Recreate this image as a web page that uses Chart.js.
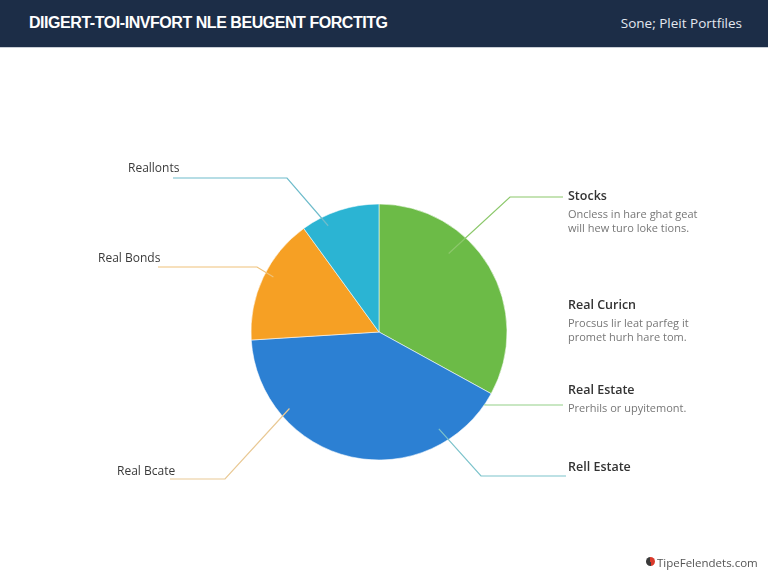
<!DOCTYPE html>
<html>
<head>
<meta charset="utf-8">
<script src="https://cdn.jsdelivr.net/npm/chart.js@4.4.1/dist/chart.umd.min.js"></script>
<style>
  html,body{margin:0;padding:0;background:#ffffff;width:768px;height:576px;overflow:hidden;font-family:"Open Sans","Noto Sans",sans-serif;}
  #hdr{position:absolute;left:0;top:0;width:768px;height:47px;background:#1c2d47;border-bottom:1px solid #c9ced6;}
  #title{position:absolute;left:29px;top:14px;font-family:"Liberation Sans",Arial,sans-serif;font-weight:bold;font-size:16px;color:#ffffff;letter-spacing:-0.45px;white-space:nowrap;}
  #sub{position:absolute;right:26px;top:14px;font-size:13.5px;color:#e3e8ef;white-space:nowrap;}
  #wrap{position:absolute;left:0;top:0;width:768px;height:576px;}
  .lbl{position:absolute;font-size:12px;color:#3a3a3a;white-space:nowrap;line-height:16px;}
  .rt{font-size:12.5px;font-weight:600;color:#333;}
  .desc{position:absolute;font-size:11px;color:#777;white-space:nowrap;line-height:14px;}
  #foot{position:absolute;left:657px;top:555px;font-size:11.5px;color:#555;white-space:nowrap;}
  #ico{position:absolute;left:646px;top:557px;width:9px;height:9px;border-radius:50%;background:conic-gradient(#d93a2b 0 50%,#3a3a3a 50% 100%);}
</style>
</head>
<body>
<div id="hdr"><div id="title">DIIGERT-TOI-INVFORT NLE BEUGENT FORCTITG</div><div id="sub">Sone; Pleit Portfiles</div></div>
<div id="wrap"><canvas id="c" width="768" height="576"></canvas></div>
<div id="texts"></div>
<div id="ico"></div><div id="foot">TipeFelendets.com</div>
<script>
// ---- data ----
const categories = ["Stocks", "Real Estate", "Real Bonds", "Reallonts"];
const shares = [33, 41, 16, 10];
const sliceColors = ["#6cbb47", "#2c80d3", "#f6a024", "#2bb4d3"];

// callouts: text, description lines, which slice they point to
const calloutTitles = ["Reallonts", "Real Bonds", "Real Bcate", "Stocks", "Real Curicn", "Real Estate", "Rell Estate"];
const calloutDescs = [
  [], [], [],
  ["Oncless in hare ghat geat", "will hew turo loke tions."],
  ["Procsus lir leat parfeg it", "promet hurh hare tom."],
  ["Prerhils or upyitemont."],
  []
];
const calloutSlice = [3, 2, 1, 0, null, 1, 1];
const calloutFrac = [0.29, 0.54, 0.75, 0.35, null, 0.04, 0.2];   // position within slice sweep
const calloutRad = [0.92, 0.93, 0.92, 0.82, null, 1.0, 0.89];    // fraction of radius

// layout (page px) for callout text and leader lines
const layout = [
  {side:"L", x:128, y:168, lineY:178, endX:173, elbowX:287, col:"#6fbccb"},
  {side:"L", x:98,  y:258, lineY:267, endX:158, elbowX:257, col:"#efc27a"},
  {side:"L", x:117, y:471, lineY:479, endX:170, elbowX:225, col:"#e9c995"},
  {side:"R", x:568, y:196, lineY:197, endX:563, elbowX:510, col:"#8cc86b"},
  {side:"R", x:568, y:305, lineY:null},
  {side:"R", x:568, y:390, lineY:405, endX:563, elbowX:487, col:"#93cf88"},
  {side:"R", x:568, y:467, lineY:476, endX:566, elbowX:481, col:"#7cc3cb"}
];

// ---- texts ----
const tc = document.getElementById('texts');
calloutTitles.forEach((t, i) => {
  const L = layout[i];
  const d = document.createElement('div');
  d.className = 'lbl' + (L.side === 'R' ? ' rt' : '');
  d.style.left = L.x + 'px'; d.style.top = (L.y - 8) + 'px';
  d.textContent = t; tc.appendChild(d);
  calloutDescs[i].forEach((s, k) => {
    const e = document.createElement('div');
    e.className = 'desc';
    e.style.left = L.x + 'px'; e.style.top = (L.y + 11 + k * 14) + 'px';
    e.textContent = s; tc.appendChild(e);
  });
});

// ---- leader line plugin ----
const leaderPlugin = {
  id: 'leaders',
  afterDatasetsDraw(chart) {
    const meta = chart.getDatasetMeta(0);
    const ctx = chart.ctx;
    ctx.save();
    ctx.lineWidth = 1.2;
    layout.forEach((L, i) => {
      if (L.lineY == null || calloutSlice[i] == null) return;
      const arc = meta.data[calloutSlice[i]];
      const p = arc.getProps(['x','y','startAngle','endAngle','outerRadius'], true);
      const a = p.startAngle + (p.endAngle - p.startAngle) * calloutFrac[i];
      const r = p.outerRadius * calloutRad[i];
      const ax = p.x + Math.cos(a) * r, ay = p.y + Math.sin(a) * r;
      ctx.strokeStyle = L.col;
      ctx.beginPath();
      ctx.moveTo(ax, ay);
      ctx.lineTo(L.elbowX, L.lineY);
      ctx.lineTo(L.endX, L.lineY);
      ctx.stroke();
    });
    ctx.restore();
  }
};

new Chart(document.getElementById('c'), {
  type: 'pie',
  data: {
    labels: categories,
    datasets: [{
      data: shares,
      backgroundColor: sliceColors,
      borderColor: 'rgba(255,255,255,0.55)',
      borderWidth: 1,
      hoverOffset: 0
    }]
  },
  options: {
    responsive: false,
    animation: false,
    layout: {padding: {left: 250.5, right: 260.5, top: 203.5, bottom: 115.5}},
    plugins: {legend: {display: false}, tooltip: {enabled: false}}
  },
  plugins: [leaderPlugin]
});
</script>
</body>
</html>
